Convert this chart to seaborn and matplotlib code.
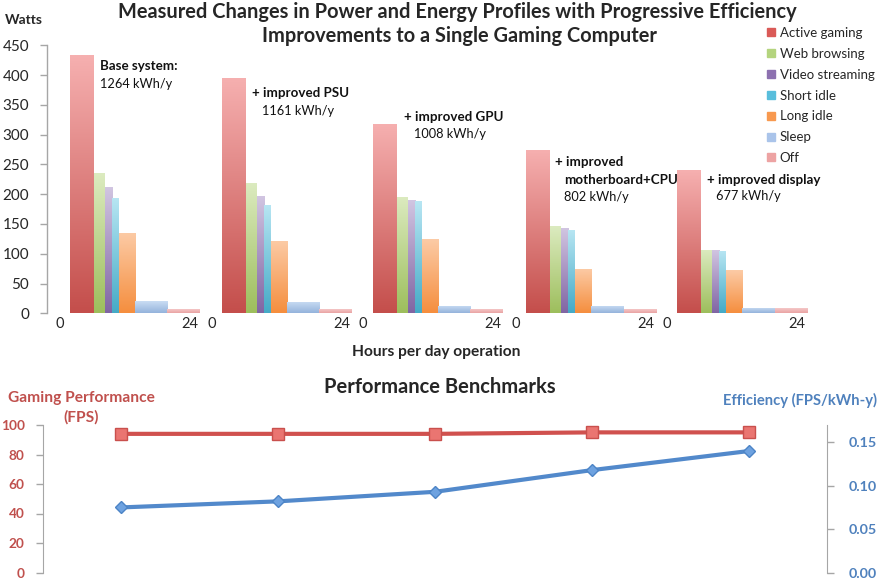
import numpy as np
import pandas as pd
import matplotlib
matplotlib.use("Agg")
import matplotlib.pyplot as plt
from matplotlib.colors import LinearSegmentedColormap
from matplotlib.lines import Line2D
from matplotlib.transforms import ScaledTranslation
import seaborn as sns

# ---------------- data ----------------
modes = ["Active gaming", "Web browsing", "Video streaming", "Short idle",
         "Long idle", "Sleep", "Off"]
hours = [4.4, 2.0, 1.4, 1.2, 3.0, 6.0, 6.0]
config_titles = ["Base system:", "+ improved PSU", "+ improved GPU",
                 "+ improved\nmotherboard+CPU", "+ improved display"]
annual_kwh = ["1264 kWh/y", "1161 kWh/y", "1008 kWh/y", "802 kWh/y", "677 kWh/y"]
watts_base = [433, 235, 212, 194, 135, 20, 8]
watts_psu = [395, 219, 197, 182, 122, 19, 8]
watts_gpu = [318, 195, 191, 188, 124, 12, 8]
watts_mb_cpu = [274, 146, 143, 140, 75, 12, 8]
watts_display = [240, 107, 107, 105, 72, 9, 9]
fps = [94, 94, 94, 95, 95]
efficiency = [0.075, 0.082, 0.093, 0.118, 0.140]
watt_ticks = [0, 50, 100, 150, 200, 250, 300, 350, 400, 450]
hour_ticks = [0, 24]
fps_ticks = [0, 20, 40, 60, 80, 100]
eff_ticks = [0.00, 0.05, 0.10, 0.15]

# ---------------- style ----------------
sns.set_style("white")
plt.rcParams["font.family"] = ["Lato", "DejaVu Sans"]

W, H = 878, 579
fig = plt.figure(figsize=(W / 100, H / 100), dpi=100)


def fx(p):
    return p / W


def fy(p):
    return 1 - p / H


grad_colors = [("#C44E4B", "#F6B0B0"), ("#9DBE5C", "#DCEBC0"),
               ("#8065A3", "#D2C6E2"), ("#45AAC6", "#B8E6F3"),
               ("#F58E3E", "#FCCBA6"), ("#94B3DB", "#CADDF4"),
               ("#E9A3A3", "#F7CFCF")]
legend_colors = ["#DA5A57", "#B4D47E", "#8D71B0", "#59BEDC", "#F8994F",
                 "#AAC4EA", "#EDA3A3"]

panels = [watts_base, watts_psu, watts_gpu, watts_mb_cpu, watts_display]
panel_x0 = [70, 222, 373, 526, 677]
pxh = 130 / 24.0
grad = np.linspace(0, 1, 256).reshape(-1, 1)
lefts = np.concatenate([[0], np.cumsum(hours)[:-1]])
GRAY = "#A6A6A6"

for i, vals in enumerate(panels):
    x0 = panel_x0[i]
    ax = fig.add_axes([fx(x0 - 4.25 * pxh), fy(313.3), fx(28.6 * pxh), 268 / H])
    ax.set_facecolor("none")
    bars = ax.bar(lefts, vals, width=hours, align="edge",
                  color=[c[0] for c in grad_colors], linewidth=0, zorder=2)
    for patch, (c0, c1) in zip(bars.patches, grad_colors):
        cmap = LinearSegmentedColormap.from_list("g", [c0, c1])
        x, w, h = patch.get_x(), patch.get_width(), patch.get_height()
        im = ax.imshow(grad, extent=[x, x + w, 0, h], origin="lower",
                       cmap=cmap, aspect="auto", zorder=2.5,
                       interpolation="bilinear")
        im.set_clip_path(patch)
    ax.set_xlim(-4.25, 24.35)
    ax.set_ylim(0, 450)
    ax.set_xticks(hour_ticks)
    ax.set_xticklabels([str(t) for t in hour_ticks])
    ax.tick_params(axis="x", length=0, pad=3, labelsize=10.5)
    off = ScaledTranslation(-10 / 100, 0, fig.dpi_scale_trans)
    for lbl in ax.get_xticklabels():
        lbl.set_transform(lbl.get_transform() + off)
    for s in ["top", "right", "bottom"]:
        ax.spines[s].set_visible(False)
    if i == 0:
        ax.set_yticks(watt_ticks)
        ax.spines["left"].set_color(GRAY)
        ax.spines["left"].set_linewidth(1)
        ax.tick_params(axis="y", length=5, width=1, color=GRAY, direction="out",
                       pad=8, labelsize=11, left=True)
    else:
        ax.spines["left"].set_visible(False)
        ax.set_yticks([])

# panel annotations
ann = [
    [(100, 66.5, config_titles[0], True), (100, 84, annual_kwh[0], False)],
    [(252, 93, config_titles[1], True), (262, 111.5, annual_kwh[1], False)],
    [(404, 117, config_titles[2], True), (414, 134, annual_kwh[2], False)],
    [(555, 162.5, "+ improved", True), (564, 180, "motherboard+CPU", True),
     (564, 197, annual_kwh[3], False)],
    [(707, 180.5, config_titles[4], True), (716, 196, annual_kwh[4], False)],
]
for group in ann:
    for (x, y, t, b) in group:
        fig.text(fx(x), fy(y), t, ha="left", va="center",
                 fontsize=9.6 if b else 9.2,
                 fontweight="bold" if b else "normal", color="#111111")

fig.text(fx(457), fy(12), "Measured Changes in Power and Energy Profiles with Progressive Efficiency",
         ha="center", va="center", fontsize=14.4, fontweight="bold")
fig.text(fx(459), fy(36), "Improvements to a Single Gaming Computer",
         ha="center", va="center", fontsize=14.4, fontweight="bold")
fig.text(fx(5), fy(20), "Watts", ha="left", va="center", fontsize=10, fontweight="bold")
fig.text(fx(436), fy(352), "Hours per day operation", ha="center", va="center",
         fontsize=11.2, fontweight="bold")

handles = [Line2D([], [], marker="s", linestyle="", markersize=6, color=c)
           for c in legend_colors]
fig.legend(handles, modes, loc="upper left", bbox_to_anchor=(fx(767), fy(27)),
           frameon=False, fontsize=9.5, handlelength=0.6, handletextpad=0.35,
           labelspacing=0.67, borderaxespad=0, borderpad=0)

# ---------------- bottom chart ----------------
RED = "#C0504D"
BLUE = "#4F81BD"
df = pd.DataFrame({"step": np.arange(len(fps)), "fps": fps, "eff": efficiency})
axl = fig.add_axes([fx(42.7), fy(572.5), fx(827.3 - 42.7), 147.5 / H])
axl.set_facecolor("none")
axr = axl.twinx()
sns.lineplot(data=df, x="step", y="fps", ax=axl, color="#D0514E", linewidth=3,
             marker="s", markersize=8, markerfacecolor="#EA7571",
             markeredgecolor="#C9504D", markeredgewidth=1, zorder=3)
sns.lineplot(data=df, x="step", y="eff", ax=axr, color="#5289CB", linewidth=3,
             marker="D", markersize=6.5, markerfacecolor="#6EA2E0",
             markeredgecolor="#4C84C6", markeredgewidth=1, zorder=3)
axl.set_xlim(-0.5, 4.5)
axl.set_ylim(0, 100)
axr.set_ylim(0, 0.17)
axl.set_xticks([])
axl.set_xlabel("")
axl.set_ylabel("")
axr.set_ylabel("")
axl.set_yticks(fps_ticks)
axr.set_yticks(eff_ticks)
axr.set_yticklabels([f"{t:.2f}" for t in eff_ticks])
for a in (axl, axr):
    for s in ["top", "bottom"]:
        a.spines[s].set_visible(False)
axl.spines["right"].set_visible(False)
axr.spines["left"].set_visible(False)
axl.spines["left"].set_color(GRAY)
axr.spines["right"].set_color(GRAY)
axl.tick_params(axis="y", length=5, width=1, color=GRAY, direction="out", pad=8,
                labelsize=9.8, labelcolor=RED, left=True)
axr.tick_params(axis="y", length=5, width=1, color=GRAY, direction="out", pad=10,
                labelsize=10.3, labelcolor=BLUE, right=True)
for lbl in axl.get_yticklabels():
    lbl.set_fontweight("bold")
for lbl in axr.get_yticklabels():
    lbl.set_fontweight("bold")

fig.text(fx(440), fy(387), "Performance Benchmarks", ha="center", va="center",
         fontsize=14.5, fontweight="bold")
fig.text(fx(81), fy(398), "Gaming Performance", ha="center", va="center",
         fontsize=11.2, fontweight="bold", color=RED)
fig.text(fx(81), fy(417), "(FPS)", ha="center", va="center",
         fontsize=11.2, fontweight="bold", color=RED)
fig.text(fx(877), fy(400), "Efficiency (FPS/kWh-y)", ha="right", va="center",
         fontsize=10.6, fontweight="bold", color=BLUE)

fig.savefig("out.png", dpi=100)
